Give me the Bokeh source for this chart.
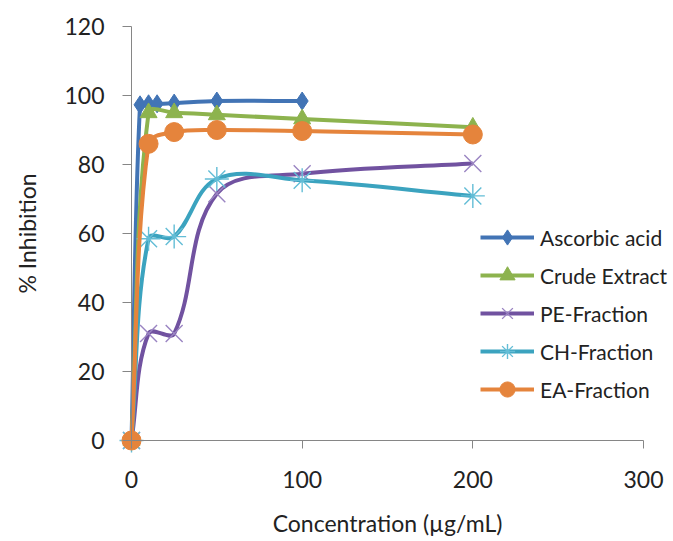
import math
from bokeh.plotting import figure
from bokeh.models import Range1d, LinearAxis, Legend, LegendItem, FixedTicker
from bokeh.embed import file_html
from bokeh.resources import INLINE

# ---- data ----
x_ascorbic = [0, 5, 10, 15, 25, 50, 100]
y_ascorbic = [0, 97.3, 97.6, 97.6, 97.8, 98.4, 98.4]
x_frac = [0, 10, 25, 50, 100, 200]
y_crude = [0, 95.0, 95.0, 94.4, 93.2, 90.8]
y_pe = [0, 31.0, 31.0, 71.5, 77.3, 80.3]
y_ch = [0, 58.5, 59.1, 75.8, 75.4, 70.9]
y_ea = [0, 86.0, 89.4, 90.0, 89.7, 88.7]
series_names = ["Ascorbic acid", "Crude Extract", "PE-Fraction", "CH-Fraction", "EA-Fraction"]
x_ticks = [0, 100, 200, 300]
y_ticks = [0, 20, 40, 60, 80, 100, 120]

# ---- layout ----
W, H = 673, 541
SX = 512 / 300.0
SY = 414 / 120.0
XR = (-131 / SX, 300 + (W - 643) / SX)
YR = (-(H - 440) / SY, 120 + 26 / SY)

FONT = "Lato"
AXIS_COLOR = "#868686"
TEXT_COLOR = "#222222"

p = figure(width=W, height=H, x_range=Range1d(*XR), y_range=Range1d(*YR),
           output_backend="svg", toolbar_location=None,
           x_axis_location=None, y_axis_location=None,
           min_border_left=0, min_border_right=0, min_border_top=0, min_border_bottom=0)
p.grid.visible = False
p.outline_line_color = None
p.background_fill_color = "white"
p.border_fill_color = "white"

xaxis = LinearAxis(fixed_location=0, bounds=(0, 300), ticker=FixedTicker(ticks=x_ticks),
                   axis_label="Concentration (\u00b5g/mL)")
yaxis = LinearAxis(fixed_location=0, bounds=(0, 120), ticker=FixedTicker(ticks=y_ticks),
                   axis_label="% Inhibition")
for ax in (xaxis, yaxis):
    ax.axis_line_color = AXIS_COLOR
    ax.major_tick_line_color = AXIS_COLOR
    ax.minor_tick_line_color = None
    ax.major_tick_in = 0
    ax.major_label_text_font = FONT
    ax.major_label_text_font_size = "23px"
    ax.major_label_text_color = TEXT_COLOR
    ax.axis_label_text_font = FONT
    ax.axis_label_text_font_size = "23px"
    ax.axis_label_text_font_style = "normal"
    ax.axis_label_text_color = TEXT_COLOR
xaxis.major_tick_out = 8
yaxis.major_tick_out = 9
xaxis.major_label_standoff = 22
yaxis.major_label_standoff = 18
xaxis.axis_label_standoff = 18
yaxis.axis_label_standoff = 20
p.add_layout(xaxis, "below")
p.add_layout(yaxis, "left")


def smooth(xs, ys):
    """Bezier segments for a smoothed line through the data points (screen-space tangents)."""
    px = [x * SX for x in xs]
    py = [y * SY for y in ys]
    n = len(xs)
    tang = []
    for i in range(n):
        a = max(i - 1, 0)
        b = min(i + 1, n - 1)
        dx, dy = px[b] - px[a], py[b] - py[a]
        l = math.hypot(dx, dy) or 1.0
        tang.append((dx / l, dy / l))
    seg = dict(x0=[], y0=[], x1=[], y1=[], cx0=[], cy0=[], cx1=[], cy1=[])
    k = 1 / 3
    for i in range(n - 1):
        L = math.hypot(px[i + 1] - px[i], py[i + 1] - py[i])
        seg["x0"].append(xs[i]); seg["y0"].append(ys[i])
        seg["x1"].append(xs[i + 1]); seg["y1"].append(ys[i + 1])
        seg["cx0"].append((px[i] + tang[i][0] * L * k) / SX)
        seg["cy0"].append((py[i] + tang[i][1] * L * k) / SY)
        seg["cx1"].append((px[i + 1] - tang[i + 1][0] * L * k) / SX)
        seg["cy1"].append((py[i + 1] - tang[i + 1][1] * L * k) / SY)
    return seg


styles = [
    # xs, ys, line color, marker, marker size, fill, marker line color, marker line width
    (x_ascorbic, y_ascorbic, "#4274B5", "diamond", 18, "#4274B5", "#4274B5", 1),
    (x_frac, y_crude, "#8DB34E", "triangle", 17, "#8DB34E", "#8DB34E", 1),
    (x_frac, y_pe, "#7152A0", "x", 24, None, "#9A84C2", 1.4),
    (x_frac, y_ch, "#3BA3BF", "asterisk", 24, None, "#63BDD6", 1.4),
    (x_frac, y_ea, "#E5843C", "circle", 19, "#E5843C", "#E5843C", 1),
]

items = []
for name, (xs, ys, lc, mk, ms, fc, mlc, mlw) in zip(series_names, styles):
    seg = smooth(xs, ys)
    bez = p.bezier(line_color=lc, line_width=4, source=seg)
    sc = p.scatter(x=xs, y=ys, marker=mk, size=ms, fill_color=fc,
                   line_color=mlc, line_width=mlw)
    items.append(LegendItem(label=name, renderers=[bez, sc]))

legend = Legend(items=items, location=(480, 133), padding=0, margin=0,
                border_line_alpha=0, background_fill_alpha=0,
                glyph_width=54, glyph_height=38, label_height=20,
                label_standoff=6, spacing=0,
                label_text_font=FONT, label_text_font_size="21px",
                label_text_color=TEXT_COLOR)
p.add_layout(legend, "center")

open("out.html", "w").write(file_html(p, INLINE))
